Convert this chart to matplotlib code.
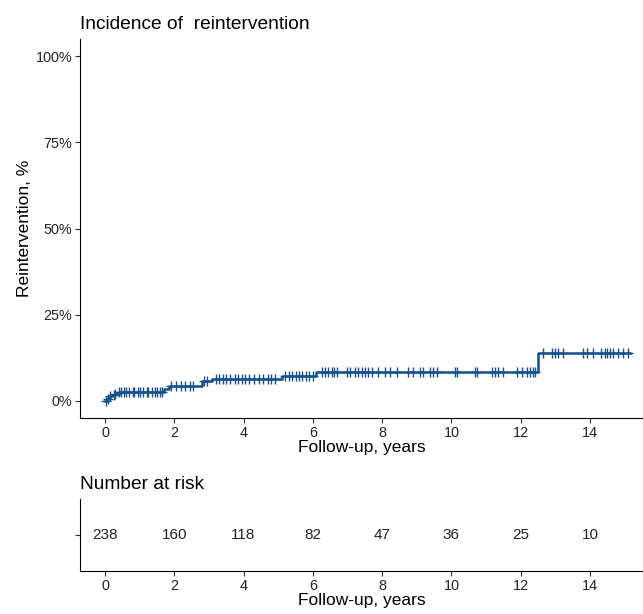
import numpy as np
import matplotlib.pyplot as plt

plt.rcParams['font.family'] = ['Liberation Sans', 'DejaVu Sans']

# cumulative incidence step function (years, %)
step_times = [0.0, 0.05, 0.1, 0.15, 0.2, 0.3, 0.4, 1.7, 1.85, 2.8, 3.08, 5.1, 6.1, 12.5]
step_levels = [0.0, 0.4, 0.9, 1.3, 1.7, 2.1, 2.6, 3.5, 4.4, 5.6, 6.4, 7.2, 8.3, 13.9]
end_time = 15.15

censor_times = [0.02, 0.08, 0.15, 0.25, 0.3, 0.4, 0.45, 0.55, 0.6, 0.7, 0.8, 0.85, 0.95,
                1.0, 1.1, 1.2, 1.25, 1.35, 1.45, 1.5, 1.6, 1.65,
                1.9, 2.05, 2.2, 2.3, 2.45, 2.55, 2.85, 2.95,
                3.2, 3.3, 3.4, 3.5, 3.6, 3.75, 3.85, 3.95, 4.05, 4.15, 4.3, 4.45,
                4.55, 4.7, 4.8, 4.9,
                5.2, 5.3, 5.4, 5.5, 5.6, 5.7, 5.8, 5.9, 6.0, 6.25, 6.35, 6.45,
                6.54, 6.61, 6.69, 6.98, 7.07, 7.22, 7.31, 7.41, 7.51, 7.6, 7.7, 7.89,
                8.08, 8.23, 8.42, 8.76, 8.9, 9.09, 9.19, 9.38, 9.48, 9.58, 10.1, 10.15,
                10.68, 10.73, 11.16, 11.26, 11.35, 11.5, 11.88, 12.03, 12.17, 12.27,
                12.37, 12.41,
                12.65, 12.9, 12.99, 13.08, 13.23, 13.81, 13.91, 14.09, 14.33, 14.43,
                14.48, 14.58, 14.67, 14.82, 14.96, 15.11]

risk_times = [0, 2, 4, 6, 8, 10, 12, 14]
risk_counts = [238, 160, 118, 82, 47, 36, 25, 10]

color = "#174f8f"
W, H = 643, 614
fig = plt.figure(figsize=(W / 100, H / 100), dpi=100)

def px_axes(left, top, right, bottom):
    return fig.add_axes([left / W, (H - bottom) / H, (right - left) / W, (bottom - top) / H])

px_per_year = 34.64
xlim = (-(105 - 80) / px_per_year, (643 - 105) / px_per_year)

ax = px_axes(80, 39, 643, 418)
tt = step_times + [end_time]
ll = step_levels + [step_levels[-1]]
ax.step(tt, ll, where="post", color=color, lw=1.8)
idx = np.searchsorted(step_times, censor_times, side="right") - 1
cy = np.array(step_levels)[idx]
ax.plot(censor_times, cy, ls="none", marker="+", ms=7, mew=1.0, color=color)

ax.set_xlim(*xlim)
ax.set_ylim(-5, 105)
ax.set_yticks([0, 25, 50, 75, 100])
ax.set_yticklabels(["0%", "25%", "50%", "75%", "100%"])
ax.set_xticks(range(0, 15, 2))
ax.set_xlabel("Follow-up, years", fontsize=12.5, labelpad=0)
ax.set_ylabel("Reintervention, %", fontsize=12.5, labelpad=3)
ax.set_title("Incidence of  reintervention", loc="left", fontsize=13.8, pad=7, color="black")

ax.spines["top"].set_visible(False)
ax.spines["right"].set_visible(False)
ax.tick_params(labelsize=10.4, length=3.5, color="#333333", labelcolor="#222222", pad=2)

rax = px_axes(80, 499, 643, 571)
for t, n in zip(risk_times, risk_counts):
    rax.text(t, 0, str(n), ha="center", va="center", fontsize=11, color="#222222")
rax.set_xlim(*xlim)
rax.set_ylim(-1, 1)
rax.set_yticks([0])
rax.set_yticklabels([""])
rax.set_xticks(range(0, 15, 2))
rax.set_xlabel("Follow-up, years", fontsize=12.5, labelpad=0)
rax.set_title("Number at risk", loc="left", fontsize=13.8, pad=7, color="black")
rax.spines["top"].set_visible(False)
rax.spines["right"].set_visible(False)
rax.tick_params(labelsize=10.4, length=3.5, color="#333333", labelcolor="#222222", pad=2)

fig.savefig("out.png", dpi=100)
